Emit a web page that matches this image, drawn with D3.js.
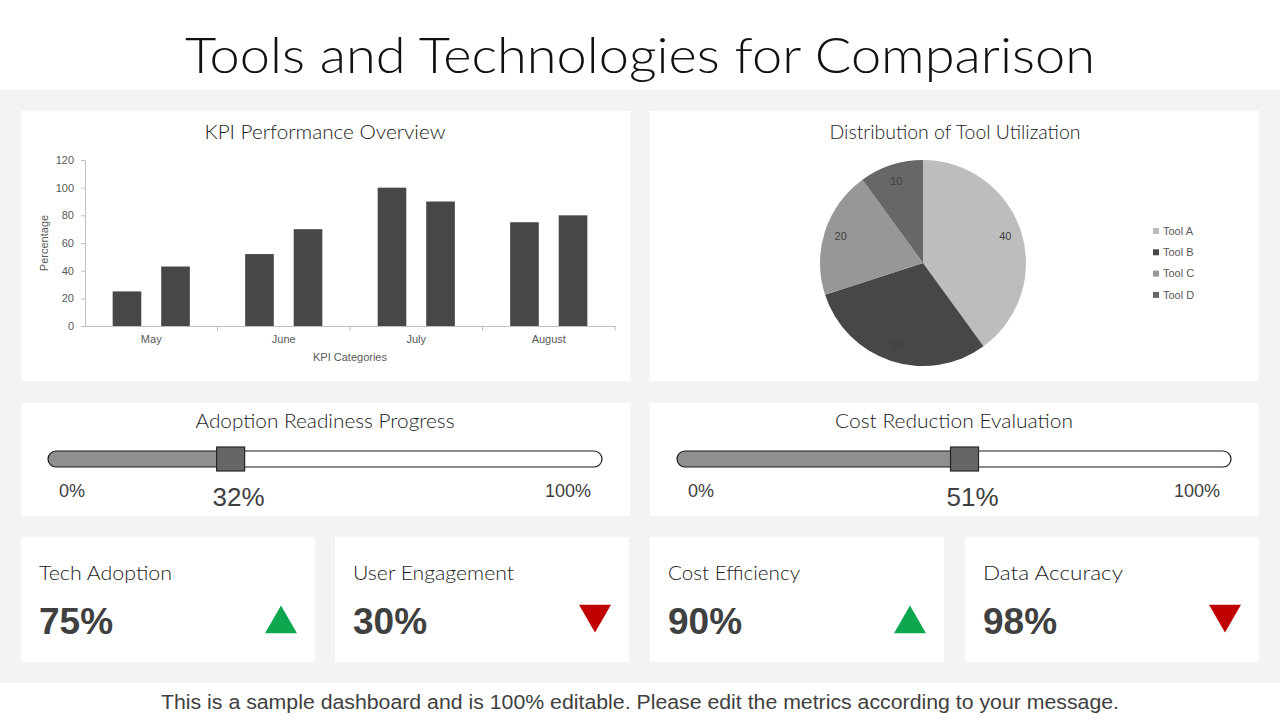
<!DOCTYPE html>
<html>
<head>
<meta charset="utf-8">
<script src="https://cdn.jsdelivr.net/npm/d3@7"></script>
<style>
  html, body { margin: 0; padding: 0; background: #fff; }
  svg { display: block; }
</style>
</head>
<body>
<div id="chart"></div>
<script>
// data
const months = ["May", "June", "July", "August"];
const seriesA = [25, 52, 100, 75];
const seriesB = [43, 70, 90, 80];
const yTicks = [0, 20, 40, 60, 80, 100, 120];

const tools = ["Tool A", "Tool B", "Tool C", "Tool D"];
const toolShare = [40, 30, 20, 10];
const toolColors = ["#bdbdbd", "#474747", "#979797", "#676767"];

const sliderTitles = ["Adoption Readiness Progress", "Cost Reduction Evaluation"];
const sliderValues = [32, 51];

const kpiLabels = ["Tech Adoption", "User Engagement", "Cost Efficiency", "Data Accuracy"];
const kpiValues = [75, 30, 90, 98];
const kpiTrend = ["up", "down", "up", "down"];

const width = 1280, height = 720;
const titleFont = "'Lato', 'Noto Sans', sans-serif";
const plainFont = "'Liberation Sans', Arial, sans-serif";

const svg = d3.select("#chart").append("svg")
  .attr("width", width).attr("height", height);

svg.append("rect").attr("width", width).attr("height", height).attr("fill", "#fff");
// grey band behind the panels
svg.append("rect").attr("x", 0).attr("y", 90).attr("width", width).attr("height", 593).attr("fill", "#f3f3f3");

svg.append("text")
  .attr("x", 640).attr("y", 73)
  .attr("text-anchor", "middle")
  .attr("font-family", titleFont)
  .attr("font-size", 50).attr("font-weight", 300)
  .attr("textLength", 910).attr("lengthAdjust", "spacingAndGlyphs")
  .attr("fill", "#111")
  .text("Tools and Technologies for Comparison");

svg.append("text")
  .attr("x", 640).attr("y", 709)
  .attr("text-anchor", "middle")
  .attr("font-family", plainFont)
  .attr("font-size", 20)
  .attr("textLength", 958).attr("lengthAdjust", "spacingAndGlyphs")
  .attr("fill", "#404040")
  .text("This is a sample dashboard and is 100% editable. Please edit the metrics according to your message.");

function panel(x, y, w, h) {
  svg.append("rect").attr("x", x).attr("y", y).attr("width", w).attr("height", h).attr("fill", "#fff");
}
function panelTitle(x, y, txt, len) {
  svg.append("text")
    .attr("x", x).attr("y", y)
    .attr("text-anchor", "middle")
    .attr("font-family", titleFont)
    .attr("font-size", 19).attr("font-weight", 300)
    .attr("textLength", len).attr("lengthAdjust", "spacingAndGlyphs")
    .attr("fill", "#1a1a1a")
    .text(txt);
}

// ---- bar chart panel
panel(21, 111, 609, 270);
panelTitle(325, 139, "KPI Performance Overview", 241);

const x0 = d3.scaleBand().domain(months).range([85, 615]);
const x1 = d3.scaleBand().domain(["a", "b"]).range([0, x0.bandwidth()])
  .paddingInner(0.41).paddingOuter(0.57);
const y = d3.scaleLinear().domain([0, 120]).range([326, 160]);

const bars = svg.append("g");
months.forEach((m, i) => {
  [["a", seriesA[i]], ["b", seriesB[i]]].forEach(([k, v]) => {
    bars.append("rect")
      .attr("x", x0(m) + x1(k))
      .attr("y", y(v))
      .attr("width", x1.bandwidth())
      .attr("height", y(0) - y(v))
      .attr("fill", "#474747");
  });
});

const yAxis = svg.append("g")
  .attr("transform", "translate(85,0)")
  .call(d3.axisLeft(y).tickValues(yTicks).tickSize(4).tickPadding(7).tickSizeOuter(0));
yAxis.selectAll("text").attr("font-family", plainFont).attr("font-size", 11).attr("fill", "#595959");
yAxis.selectAll("line, path").attr("stroke", "#bfbfbf");

const xAxis = svg.append("g")
  .attr("transform", "translate(0,326)")
  .call(d3.axisBottom(x0).tickSize(0).tickPadding(9).tickSizeOuter(0));
xAxis.selectAll("text").attr("font-family", plainFont).attr("font-size", 11).attr("fill", "#595959");
xAxis.select(".domain").attr("stroke", "#bfbfbf");
months.forEach(m => {
  svg.append("line")
    .attr("x1", x0(m) + x0.bandwidth()).attr("x2", x0(m) + x0.bandwidth())
    .attr("y1", 326).attr("y2", 331)
    .attr("stroke", "#bfbfbf");
});

svg.append("text")
  .attr("transform", "translate(48,243) rotate(-90)")
  .attr("text-anchor", "middle")
  .attr("font-family", plainFont).attr("font-size", 11).attr("fill", "#595959")
  .text("Percentage");
svg.append("text")
  .attr("x", 350).attr("y", 361)
  .attr("text-anchor", "middle")
  .attr("font-family", plainFont).attr("font-size", 11).attr("fill", "#595959")
  .text("KPI Categories");

// ---- pie panel
panel(650, 111, 609, 270);
panelTitle(955, 139, "Distribution of Tool Utilization", 251);

const pieData = tools.map((t, i) => ({ tool: t, value: toolShare[i], color: toolColors[i] }));
const pie = d3.pie().value(d => d.value).sort(null);
const R = 103;
const arc = d3.arc().innerRadius(0).outerRadius(R);
const labelArc = d3.arc().innerRadius(R * 0.84).outerRadius(R * 0.84);
const pieG = svg.append("g").attr("transform", "translate(923,263)");
pieG.selectAll("path").data(pie(pieData)).join("path")
  .attr("d", arc)
  .attr("fill", d => d.data.color);
pieG.selectAll("text").data(pie(pieData)).join("text")
  .attr("transform", d => `translate(${labelArc.centroid(d)})`)
  .attr("text-anchor", "middle").attr("dy", "0.35em")
  .attr("font-family", plainFont).attr("font-size", 11).attr("fill", "#404040")
  .text(d => d.data.value);

const legend = svg.append("g").attr("transform", "translate(1153,231)");
pieData.forEach((d, i) => {
  const row = legend.append("g").attr("transform", `translate(0,${i * 21.3})`);
  row.append("rect").attr("x", 0).attr("y", -3).attr("width", 6).attr("height", 6).attr("fill", d.color);
  row.append("text").attr("x", 10).attr("y", 0).attr("dy", "0.35em")
    .attr("font-family", plainFont).attr("font-size", 11).attr("fill", "#595959")
    .text(d.tool);
});

// ---- slider panels
const sliderX = [21, 650];
sliderTitles.forEach((title, i) => {
  const px = sliderX[i];
  panel(px, 403, 609, 113);
  panelTitle(px + 304, 428, title, i === 0 ? 259 : 238);

  const t0 = px + 27, t1 = px + 581;
  const s = d3.scaleLinear().domain([0, 100]).range([t0 + 6, t1 + 4]);
  const hx = s(sliderValues[i]);
  const g = svg.append("g");

  g.append("rect")
    .attr("x", t0).attr("y", 451).attr("width", t1 - t0).attr("height", 16)
    .attr("rx", 8).attr("fill", "#fff");
  const clipId = "clip" + i;
  g.append("clipPath").attr("id", clipId)
    .append("rect").attr("x", t0).attr("y", 440).attr("width", hx - t0).attr("height", 40);
  g.append("rect")
    .attr("x", t0).attr("y", 451).attr("width", t1 - t0).attr("height", 16)
    .attr("rx", 8).attr("fill", "#8f8f8f")
    .attr("clip-path", `url(#${clipId})`);
  g.append("rect")
    .attr("x", t0).attr("y", 451).attr("width", t1 - t0).attr("height", 16)
    .attr("rx", 8).attr("fill", "none").attr("stroke", "#1a1a1a").attr("stroke-width", 1.2);
  g.append("rect")
    .attr("x", hx - 14).attr("y", 447).attr("width", 28).attr("height", 24)
    .attr("fill", "#666").attr("stroke", "#262626").attr("stroke-width", 1.2);

  g.append("text").attr("x", px + 51).attr("y", 497).attr("text-anchor", "middle")
    .attr("font-family", plainFont).attr("font-size", 18).attr("fill", "#404040").text("0%");
  g.append("text").attr("x", px + 547).attr("y", 497).attr("text-anchor", "middle")
    .attr("font-family", plainFont).attr("font-size", 18).attr("fill", "#404040").text("100%");
  g.append("text").attr("x", hx + 8).attr("y", 506).attr("text-anchor", "middle")
    .attr("font-family", plainFont).attr("font-size", 26).attr("fill", "#404040")
    .text(sliderValues[i] + "%");
});

// ---- KPI cards
const cardX = [21, 335, 650, 965];
const labelLen = [133, 161, 132, 140];
kpiLabels.forEach((lab, i) => {
  const cx = cardX[i];
  panel(cx, 537, 294, 125);
  svg.append("text")
    .attr("x", cx + 18).attr("y", 580)
    .attr("font-family", titleFont).attr("font-size", 20).attr("font-weight", 300)
    .attr("textLength", labelLen[i]).attr("lengthAdjust", "spacingAndGlyphs")
    .attr("fill", "#1a1a1a")
    .text(lab);
  svg.append("text")
    .attr("x", cx + 18).attr("y", 634)
    .attr("font-family", plainFont).attr("font-size", 37).attr("font-weight", "bold")
    .attr("fill", "#404040")
    .text(kpiValues[i] + "%");
  const up = kpiTrend[i] === "up";
  const tri = d3.symbol().type(d3.symbolTriangle).size(443);
  svg.append("path")
    .attr("d", tri())
    .attr("transform", `translate(${cx + 260},${up ? 624 : 614}) rotate(${up ? 0 : 180})`)
    .attr("fill", up ? "#0ea64f" : "#c00000");
});
</script>
</body>
</html>
